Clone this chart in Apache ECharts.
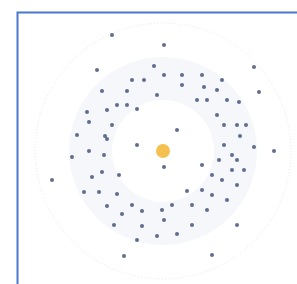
<!DOCTYPE html>
<html>
<head>
<meta charset="utf-8">
<script src="https://cdn.jsdelivr.net/npm/echarts@6/dist/echarts.min.js"></script>
<style>
html,body{margin:0;padding:0;background:#fff;}
#c{width:297px;height:284px;}
</style>
</head>
<body>
<div id="c"></div>
<script>
// Star at the centre
var starPos = [[0, 0]];
// Bodies: x, y relative to the star
var bodiesX = [-51,-66,-31,-19,-61,-36,-46,-36,-56,-26,-76,-74,-51,-86,-58,-56,
  1,-9,1,19,39,59,19,41,54,-6,34,44,64,76,91,96,54,14,61,74,83,77,
  -26,-74,-91,-59,-111,-71,-61,-44,-79,-64,-46,-56,-31,-41,-21,-49,-21,-26,-39,
  61,91,111,1,39,56,69,74,69,81,49,59,74,24,39,49,64,-1,9,29,44,1,29,74,-6,14,49];
var bodiesY = [116,81,71,71,60,60,46,46,41,42,39,29,26,16,15,12,
  106,85,76,76,76,71,66,64,61,56,51,51,51,49,84,59,36,21,26,26,26,15,
  6,0,-6,-4,-29,-26,-21,-24,-41,-41,-43,-55,-54,-63,-60,-74,-75,-89,-105,
  6,4,0,-16,-14,-9,-4,-9,-19,-19,-24,-29,-34,-40,-39,-44,-49,-59,-54,-54,-59,-69,-74,-74,-85,-83,-104];
// Zone radii (same units as positions)
var zoneInner = 51, zoneOuter = 94, outerOrbit = 128;

var bodies = bodiesX.map(function(x, i){ return [x, bodiesY[i]]; });
var chart = echarts.init(document.getElementById('c'));
var cx = 163, cy = 151, half = 130;
chart.setOption({
  animation: false,
  graphic: [{
    type: 'rect', left: 15, top: 10, shape: {width: 320, height: 320},
    style: {fill: 'none', stroke: '#4a78cf', lineWidth: 2}, silent: true, z: 100
  }],
  grid: {left: cx - half, top: cy - half, width: half * 2, height: half * 2},
  xAxis: {type: 'value', min: -half, max: half, show: false},
  yAxis: {type: 'value', min: -half, max: half, show: false},
  series: [
    {type: 'pie', silent: true, center: [cx, cy], radius: [0, outerOrbit],
     label: {show: false}, labelLine: {show: false}, z: 0,
     itemStyle: {color: 'rgba(0,0,0,0)', borderColor: '#e2e4e8', borderWidth: 1, borderType: [1, 2]},
     data: [1]},
    {type: 'pie', silent: true, center: [cx, cy], radius: [zoneInner, zoneOuter],
     label: {show: false}, labelLine: {show: false}, z: 0,
     itemStyle: {color: '#f5f7fa', borderWidth: 0},
     data: [1]},
    {type: 'scatter', data: bodies, symbolSize: 4, itemStyle: {color: '#3b4870'}, z: 3},
    {type: 'scatter', data: starPos, symbolSize: 14, itemStyle: {color: '#f1b126'}, z: 4}
  ]
});
</script>
</body>
</html>
